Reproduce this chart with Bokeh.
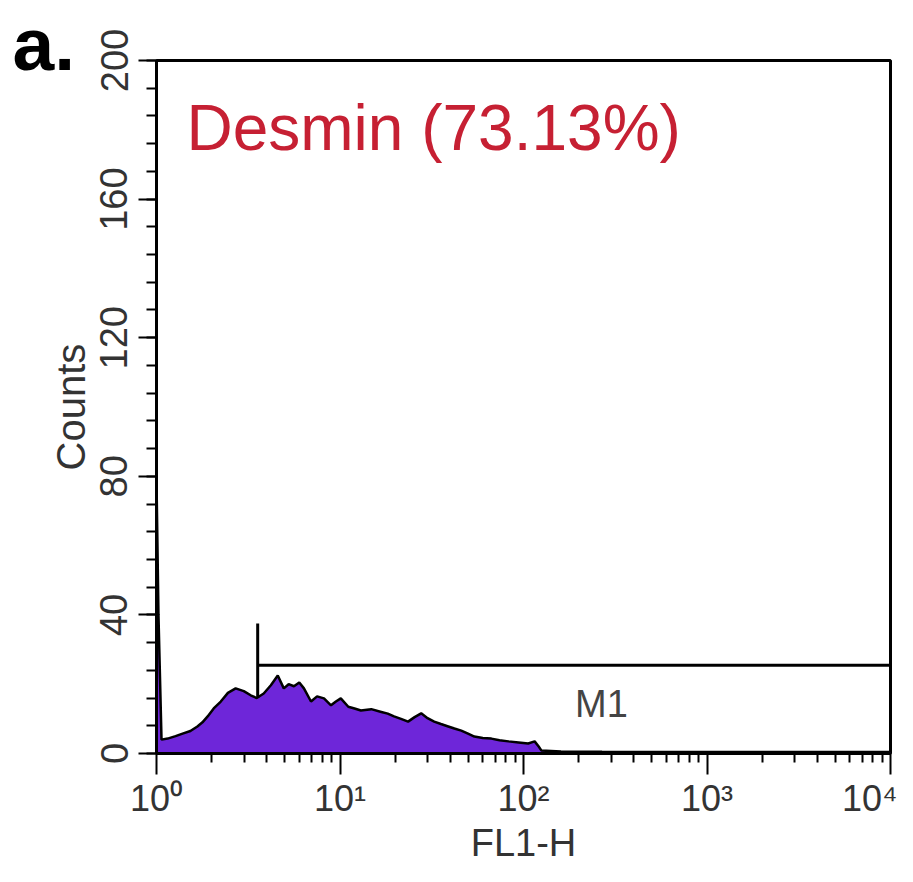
from bokeh.plotting import figure
from bokeh.models import Label, Range1d, FixedTicker, SingleIntervalTicker
from bokeh.embed import file_html
from bokeh.resources import INLINE

# ---- data ----
hist_x = [1.0, 1.025, 1.065, 1.15, 1.27, 1.40, 1.53, 1.67, 1.78, 1.90,
          2.05, 2.24, 2.45, 2.70, 2.99, 3.26, 3.52, 3.84, 4.20, 4.58,
          4.94, 5.25, 5.61, 6.0, 6.36, 6.95, 7.5, 8.18, 8.93, 9.5,
          10.1, 11.1, 12.0, 13.0, 14.8, 16.8, 18.2, 19.7, 21.5, 23.5,
          25.5, 27.7, 30.0, 32.6, 35.5, 38.9, 42.0, 45.8, 49.5, 54.0,
          60.0, 66.8, 74.0, 82.8, 94.0, 106, 115, 121, 125, 160,
          268, 500, 940, 2000, 5000, 10000]
hist_counts = [79, 40, 4, 4.3, 5, 5.8, 6.5, 7.8, 9, 10.7,
               13, 15, 17.5, 18.8, 18, 16.8, 16, 17.3, 19.7, 22.5,
               18.8, 20, 19.4, 20.5, 18.8, 15, 16.5, 15.9, 13.9, 15,
               15.9, 13.5, 13, 12.4, 12.8, 12, 11.5, 10.7, 10, 9.2,
               10.5, 11.6, 10.2, 9.2, 8.5, 7.8, 7.2, 6.6, 5.8, 4.9,
               4.5, 4.3, 3.8, 3.5, 3.2, 2.9, 3.5, 2, 0.9, 0.6,
               0.5, 0.45, 0.4, 0.4, 0.4, 0.4]

gate_start = 3.56
gate_end = 10000
gate_level = 25.5
gate_tick_low = 16
gate_tick_high = 37.5
gate_name = "M1"
gate_label_x = 266
gate_label_y = 14.4

x_decades = [1, 10, 100, 1000, 10000]
x_tick_labels = ["10\u2070", "10\u00b9", "10\u00b2", "10\u00b3", "10\u2074"]
y_ticks_interval = 40

title_text = "Desmin (73.13%)"
title_x = 1.457
title_y = 180.4
panel_text = "a."

FONT = "Liberation Sans"

p = figure(width=897, height=866, x_axis_type="log",
           x_range=Range1d(1, 10000), y_range=Range1d(0, 200),
           output_backend="svg", toolbar_location=None, title=panel_text,
           min_border_left=156, min_border_right=7,
           min_border_top=60, min_border_bottom=111)
p.grid.visible = False
p.outline_line_color = "black"
p.outline_line_width = 3
p.background_fill_color = "white"
p.border_fill_color = "white"

# panel letter as the plot title, pulled to the top-left corner
p.title.align = "left"
p.title.offset = -144
p.title.standoff = -50
p.title.text_font = FONT
p.title.text_font_size = "75px"
p.title.text_font_style = "bold"
p.title.text_color = "black"

# histogram
p.varea(x=hist_x, y1=[0] * len(hist_x), y2=hist_counts, fill_color="#6e26d9")
p.line(x=hist_x, y=hist_counts, line_color="black", line_width=2.5)

# gate marker M1
p.segment(x0=[gate_start], y0=[gate_level], x1=[gate_end], y1=[gate_level],
          line_color="black", line_width=3)
p.segment(x0=[gate_start], y0=[gate_tick_low], x1=[gate_start], y1=[gate_tick_high],
          line_color="black", line_width=3)
p.add_layout(Label(x=gate_label_x, y=gate_label_y, text=gate_name, text_align="center",
                   text_baseline="alphabetic",
                   text_font=FONT, text_font_size="38px", text_color="#444444"))

# x axis
minor = [m * d for d in x_decades[:-1] for m in range(2, 10)]
p.xaxis.ticker = FixedTicker(ticks=x_decades, minor_ticks=minor)
p.xaxis.major_label_overrides = dict(zip(x_decades, x_tick_labels))
p.xaxis.major_label_text_font = FONT
p.xaxis.major_label_text_font_size = "36px"
p.xaxis.major_label_text_color = "#333333"
p.xaxis.major_label_standoff = 3
p.xaxis.axis_label = "FL1-H"
p.xaxis.axis_label_text_font = FONT
p.xaxis.axis_label_text_font_size = "38px"
p.xaxis.axis_label_text_font_style = "normal"
p.xaxis.axis_label_text_color = "#333333"
p.xaxis.axis_label_standoff = 0

# y axis
p.yaxis.ticker = SingleIntervalTicker(interval=y_ticks_interval, num_minor_ticks=5)
p.yaxis.major_label_orientation = "vertical"
p.yaxis.major_label_text_font = FONT
p.yaxis.major_label_text_font_size = "38px"
p.yaxis.major_label_text_color = "#333333"
p.yaxis.major_label_standoff = 11
p.yaxis.axis_label = "Counts"
p.yaxis.axis_label_text_font = FONT
p.yaxis.axis_label_text_font_size = "40px"
p.yaxis.axis_label_text_font_style = "normal"
p.yaxis.axis_label_text_color = "#333333"
p.yaxis.axis_label_standoff = 5

for ax in (p.xaxis, p.yaxis):
    ax.axis_line_width = 3
    ax.axis_line_color = "black"
    ax.major_tick_line_width = 2
    ax.minor_tick_line_width = 2
    ax.major_tick_in = 0
    ax.minor_tick_in = 0
p.xaxis.major_tick_out = 21
p.xaxis.minor_tick_out = 9
p.yaxis.major_tick_out = 18
p.yaxis.minor_tick_out = 10

# title inside the plot
p.add_layout(Label(x=title_x, y=title_y, text=title_text, text_align="left",
                   text_baseline="alphabetic",
                   text_font=FONT, text_font_size="64px", text_color="#c62033"))

open("out.html", "w").write(file_html(p, INLINE))
